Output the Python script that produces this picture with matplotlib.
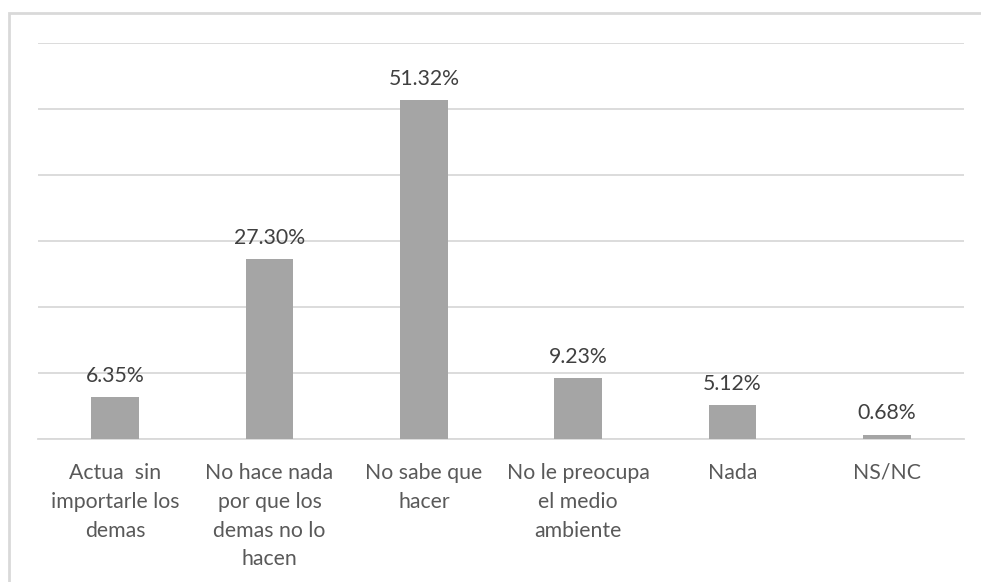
import matplotlib
matplotlib.use("Agg")
import matplotlib.pyplot as plt
from matplotlib.patches import Rectangle

categories = ["Actua  sin\nimportarle los\ndemas",
              "No hace nada\npor que los\ndemas no lo\nhacen",
              "No sabe que\nhacer",
              "No le preocupa\nel medio\nambiente",
              "Nada",
              "NS/NC"]
values = [6.35, 27.30, 51.32, 9.23, 5.12, 0.68]
labels = ["6.35%", "27.30%", "51.32%", "9.23%", "5.12%", "0.68%"]

plt.rcParams['font.family'] = ['Lato', 'DejaVu Sans']

W, H = 981, 582
fig = plt.figure(figsize=(W/100, H/100), dpi=100)
fig.patches.append(Rectangle((9/W, -0.1), 1.2, 1 - 13/H + 0.1, transform=fig.transFigure,
                             fill=False, edgecolor="#d9d9d9", linewidth=2))

left, right, top, bottom = 38, 964, 43, 439
ax = fig.add_axes([left/W, 1 - bottom/H, (right-left)/W, (bottom-top)/H])
x = list(range(len(values)))
ax.bar(x, values, width=0.31, color="#a5a5a5", zorder=3)
ax.set_xlim(-0.5, len(values) - 0.5)
ax.set_ylim(0, 60)
ax.set_yticks(range(0, 61, 10))
ax.yaxis.grid(True, color="#d9d9d9", linewidth=1.3, zorder=0)
ax.tick_params(axis='y', left=False, labelleft=False)
ax.tick_params(axis='x', length=0, pad=17)
ax.set_xticks(x)
ax.set_xticklabels(categories, fontsize=15.3, color="#595959", linespacing=1.56)
for s in ["top", "right", "left"]:
    ax.spines[s].set_visible(False)
ax.spines["bottom"].set_color("#d9d9d9")
ax.spines["bottom"].set_linewidth(1.3)
for xi, v, lab in zip(x, values, labels):
    ax.annotate(lab, (xi, v), xytext=(0, 8), textcoords="offset points",
                ha="center", va="bottom", fontsize=15.3, color="#404040")

fig.savefig("out.png", dpi=100, facecolor="white")
